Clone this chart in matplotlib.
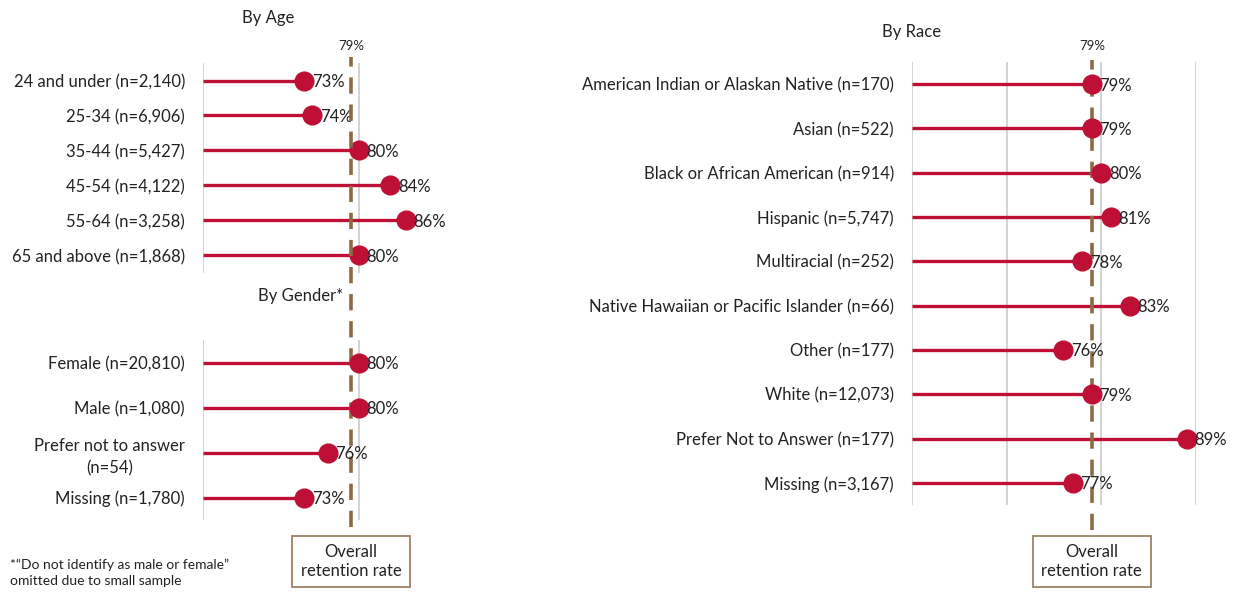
import matplotlib.pyplot as plt
import matplotlib.transforms as mtransforms

plt.rcParams['font.family'] = ['Lato', 'DejaVu Sans']

age_labels = ["24 and under (n=2,140)", "25-34 (n=6,906)", "35-44 (n=5,427)",
              "45-54 (n=4,122)", "55-64 (n=3,258)", "65 and above (n=1,868)"]
age_rates = [73, 74, 80, 84, 86, 80]

gender_labels = ["Female (n=20,810)", "Male (n=1,080)",
                 "Prefer not to answer\n(n=54)", "Missing (n=1,780)"]
gender_rates = [80, 80, 76, 73]

race_labels = ["American Indian or Alaskan Native (n=170)", "Asian (n=522)",
               "Black or African American (n=914)", "Hispanic (n=5,747)",
               "Multiracial (n=252)", "Native Hawaiian or Pacific Islander (n=66)",
               "Other (n=177)", "White (n=12,073)",
               "Prefer Not to Answer (n=177)", "Missing (n=3,167)"]
race_rates = [79, 79, 80, 81, 78, 83, 76, 79, 89, 77]

overall_rate = 79

RED = '#BE0F34'
BROWN = '#8C6A46'
GRID = '#D0D0D0'
TXT = '#222222'
FS = 12

W, H = 1237, 593
fig = plt.figure(figsize=(W / 100, H / 100), dpi=100)


def px_axes(x0, y0, x1, y1):
    # axes rectangle from pixel corners (top-left origin)
    return fig.add_axes([x0 / W, 1 - y1 / H, (x1 - x0) / W, (y1 - y0) / H])


def lollipop(ax, labels, rates, xmax, xticks):
    ys = range(len(labels))
    ax.hlines(ys, 60, rates, color=RED, lw=2.4, zorder=2)
    ax.plot(rates, ys, 'o', color=RED, ms=13.5, zorder=4)
    for y, r in zip(ys, rates):
        ax.annotate(f"{r}%", (r, y), xytext=(5.5, 0), textcoords='offset points',
                    ha='left', va='center_baseline', fontsize=FS, color=TXT, zorder=5)
    ax.set_xlim(60, xmax)
    ax.set_ylim(len(labels) - 0.5, -0.5)
    ax.set_xticks(xticks)
    ax.set_yticks(list(ys))
    ax.set_yticklabels(labels, fontsize=FS, color=TXT, multialignment='center')
    for t in ax.get_yticklabels():
        t.set_linespacing(1.45)
        t.set_verticalalignment('center_baseline')
    ax.tick_params(axis='x', length=0, labelbottom=False)
    ax.tick_params(axis='y', length=0, pad=13)
    ax.grid(axis='x', color=GRID, lw=1.3, zorder=0)
    ax.set_axisbelow(True)
    for s in ax.spines.values():
        s.set_visible(False)
    ax.patch.set_visible(False)


def overall_marker(ax, y_lo, y_hi, label_y, box_y):
    trans = mtransforms.blended_transform_factory(ax.transData, ax.transAxes)
    ax.axvline(overall_rate, ymin=y_lo, ymax=y_hi, color=BROWN, lw=2.6,
               dashes=(4.5, 3), clip_on=False, zorder=3)
    ax.text(overall_rate, label_y, f"{overall_rate}%", transform=trans,
            ha='center', va='center', fontsize=9.5, color=TXT)
    ax.text(overall_rate, box_y, "Overall\nretention rate", transform=trans,
            ha='center', va='center', fontsize=FS, color=TXT, linespacing=1.2,
            bbox=dict(boxstyle='square,pad=0.5', fc='white', ec='#9C8466', lw=1.3))


# left panel: age and gender
ax_age = px_axes(203, 63, 437, 273)
lollipop(ax_age, age_labels, age_rates, 90, [60, 80])
ax_age.text(0.278, 1.214, "By Age", transform=ax_age.transAxes,
            ha='center', va='center', fontsize=FS, color=TXT)

ax_gen = px_axes(203, 340, 437, 520)
lollipop(ax_gen, gender_labels, gender_rates, 90, [60, 80])
ax_gen.text(0.415, 1.244, "By Gender*", transform=ax_gen.transAxes,
            ha='center', va='center', fontsize=FS, color=TXT)
overall_marker(ax_gen, -0.04, 2.57, 2.633, -0.232)

# right panel: race
ax_race = px_axes(912, 62, 1196, 505)
lollipop(ax_race, race_labels, race_rates, 90, [60, 70, 80, 90])
ax_race.text(0.0, 1.068, "By Race", transform=ax_race.transAxes,
             ha='center', va='center', fontsize=FS, color=TXT)
overall_marker(ax_race, -0.056, 1.0045, 1.036, -0.128)

fig.text(10 / W, 1 - 559 / H,
         "*\u201cDo not identify as male or female\u201d\nomitted due to small sample",
         ha='left', va='top', fontsize=10, color=TXT, linespacing=1.4)

fig.savefig('out.png', dpi=100, facecolor='white')
